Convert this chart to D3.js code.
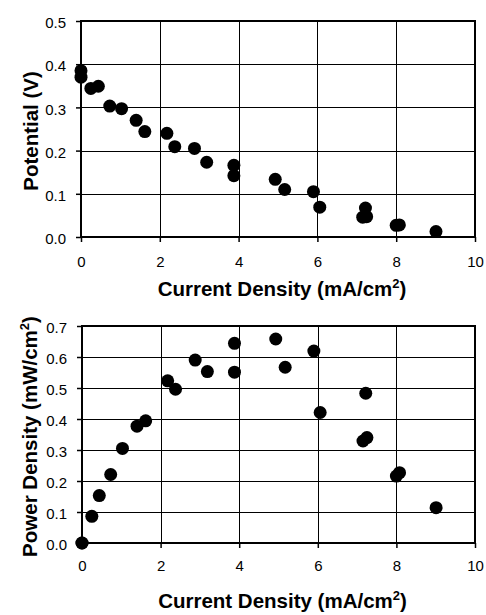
<!DOCTYPE html>
<html>
<head>
<meta charset="utf-8">
<script src="https://cdn.jsdelivr.net/npm/d3@7"></script>
<style>
body { margin: 0; background: #fff; }
text { font-family: "Liberation Sans", Arial, sans-serif; fill: #000; }
</style>
</head>
<body>
<script>
// valeurs
var current = [0, 0, 0.25, 0.44, 0.73, 1.03, 1.40, 1.62, 2.18, 2.38, 2.88, 3.19,
  3.88, 3.88, 4.93, 5.17, 5.90, 6.06, 7.22, 7.15, 7.25, 8.00, 8.08, 9.01];
var potential = [0.385, 0.370, 0.344, 0.349, 0.303, 0.297, 0.270, 0.244, 0.240, 0.209, 0.205, 0.173,
  0.166, 0.142, 0.1335, 0.110, 0.105, 0.069, 0.067, 0.046, 0.047, 0.027, 0.028, 0.0126];
var power = [0.0, 0.0, 0.086, 0.153, 0.221, 0.305, 0.377, 0.394, 0.523, 0.496, 0.590, 0.553,
  0.644, 0.551, 0.658, 0.567, 0.619, 0.421, 0.483, 0.329, 0.340, 0.216, 0.227, 0.114];

var xTicks = [0, 2, 4, 6, 8, 10];
var yTicksTop = [0, 0.1, 0.2, 0.3, 0.4, 0.5];
var yTicksBottom = [0, 0.1, 0.2, 0.3, 0.4, 0.5, 0.6, 0.7];

var larg = 486;
var haut = 615;

var svg = d3.select("body")
  .append("svg")
  .attr("width", larg)
  .attr("height", haut);

function graphe(opt) {
  var xScale = d3.scaleLinear().domain([0, 10]).range([opt.left, opt.right]);
  var yScale = d3.scaleLinear().domain([0, opt.ymax]).range([opt.bottom, opt.top]);
  var g = svg.append("g");

  // grille
  g.selectAll("line.h").data(opt.yTicks).enter().append("line")
    .attr("x1", opt.left).attr("x2", opt.right)
    .attr("y1", function(d) { return Math.round(yScale(d)) + 0.5; })
    .attr("y2", function(d) { return Math.round(yScale(d)) + 0.5; })
    .attr("stroke", "#000").attr("stroke-width", 1);
  g.selectAll("line.v").data(opt.xTicks).enter().append("line")
    .attr("y1", opt.top).attr("y2", opt.bottom)
    .attr("x1", function(d) { return Math.round(xScale(d)) + 0.5; })
    .attr("x2", function(d) { return Math.round(xScale(d)) + 0.5; })
    .attr("stroke", "#000").attr("stroke-width", 1);

  // cadre
  g.append("rect")
    .attr("x", opt.left).attr("y", opt.top)
    .attr("width", opt.right - opt.left).attr("height", opt.bottom - opt.top)
    .attr("fill", "none").attr("stroke", "#000").attr("stroke-width", 2);

  var xAxis = d3.axisBottom(xScale).tickValues(opt.xTicks)
    .tickSize(5).tickPadding(opt.xPad).tickFormat(d3.format("d"));
  var ax = g.append("g").attr("transform", "translate(0," + opt.bottom + ")").call(xAxis);
  var yAxis = d3.axisLeft(yScale).tickValues(opt.yTicks)
    .tickSize(5).tickPadding(10).tickFormat(d3.format(".1f"));
  var ay = g.append("g").attr("transform", "translate(" + opt.left + ",0)").call(yAxis);
  [ax, ay].forEach(function(a) {
    a.select(".domain").remove();
    a.selectAll("line").attr("stroke", "#000").attr("stroke-width", 1.5);
    a.selectAll("text").attr("font-size", "15px")
      .attr("font-family", "Liberation Sans, Arial, sans-serif");
  });
  ay.selectAll("text").attr("dy", "0.45em");

  // points
  g.selectAll("circle").data(opt.ys).enter().append("circle")
    .attr("cx", function(d, i) { return xScale(current[i]); })
    .attr("cy", function(d) { return yScale(d); })
    .attr("r", 6.5)
    .attr("fill", "#000");

  // titres
  var tx = g.append("text")
    .attr("x", (opt.left + opt.right) / 2 + 4)
    .attr("y", opt.xTitleY)
    .attr("text-anchor", "middle")
    .attr("font-size", "20.5px").attr("font-weight", "bold");
  tx.append("tspan").text("Current Density (mA/cm");
  tx.append("tspan").text("2").attr("font-size", "13px").attr("dy", "-8");
  tx.append("tspan").text(")").attr("dy", "8");

  var ty = g.append("text")
    .attr("transform", "translate(" + opt.yTitleX + "," + ((opt.top + opt.bottom) / 2 + 2) + ") rotate(-90)")
    .attr("text-anchor", "middle")
    .attr("font-size", "20.5px").attr("font-weight", "bold");
  ty.append("tspan").text(opt.yLabel);
  if (opt.ySup) {
    ty.append("tspan").text("2").attr("font-size", "13px").attr("dy", "-8");
    ty.append("tspan").text(")").attr("dy", "8");
  }
}

graphe({
  left: 81, right: 475, top: 21, bottom: 237,
  ymax: 0.5, yTicks: yTicksTop, xTicks: xTicks, ys: potential,
  xPad: 14, xTitleY: 296, yTitleX: 38,
  yLabel: "Potential (V)", ySup: false
});

graphe({
  left: 82, right: 475, top: 326, bottom: 543,
  ymax: 0.7, yTicks: yTicksBottom, xTicks: xTicks, ys: power,
  xPad: 12, xTitleY: 608, yTitleX: 37,
  yLabel: "Power Density (mW/cm", ySup: true
});
</script>
</body>
</html>
